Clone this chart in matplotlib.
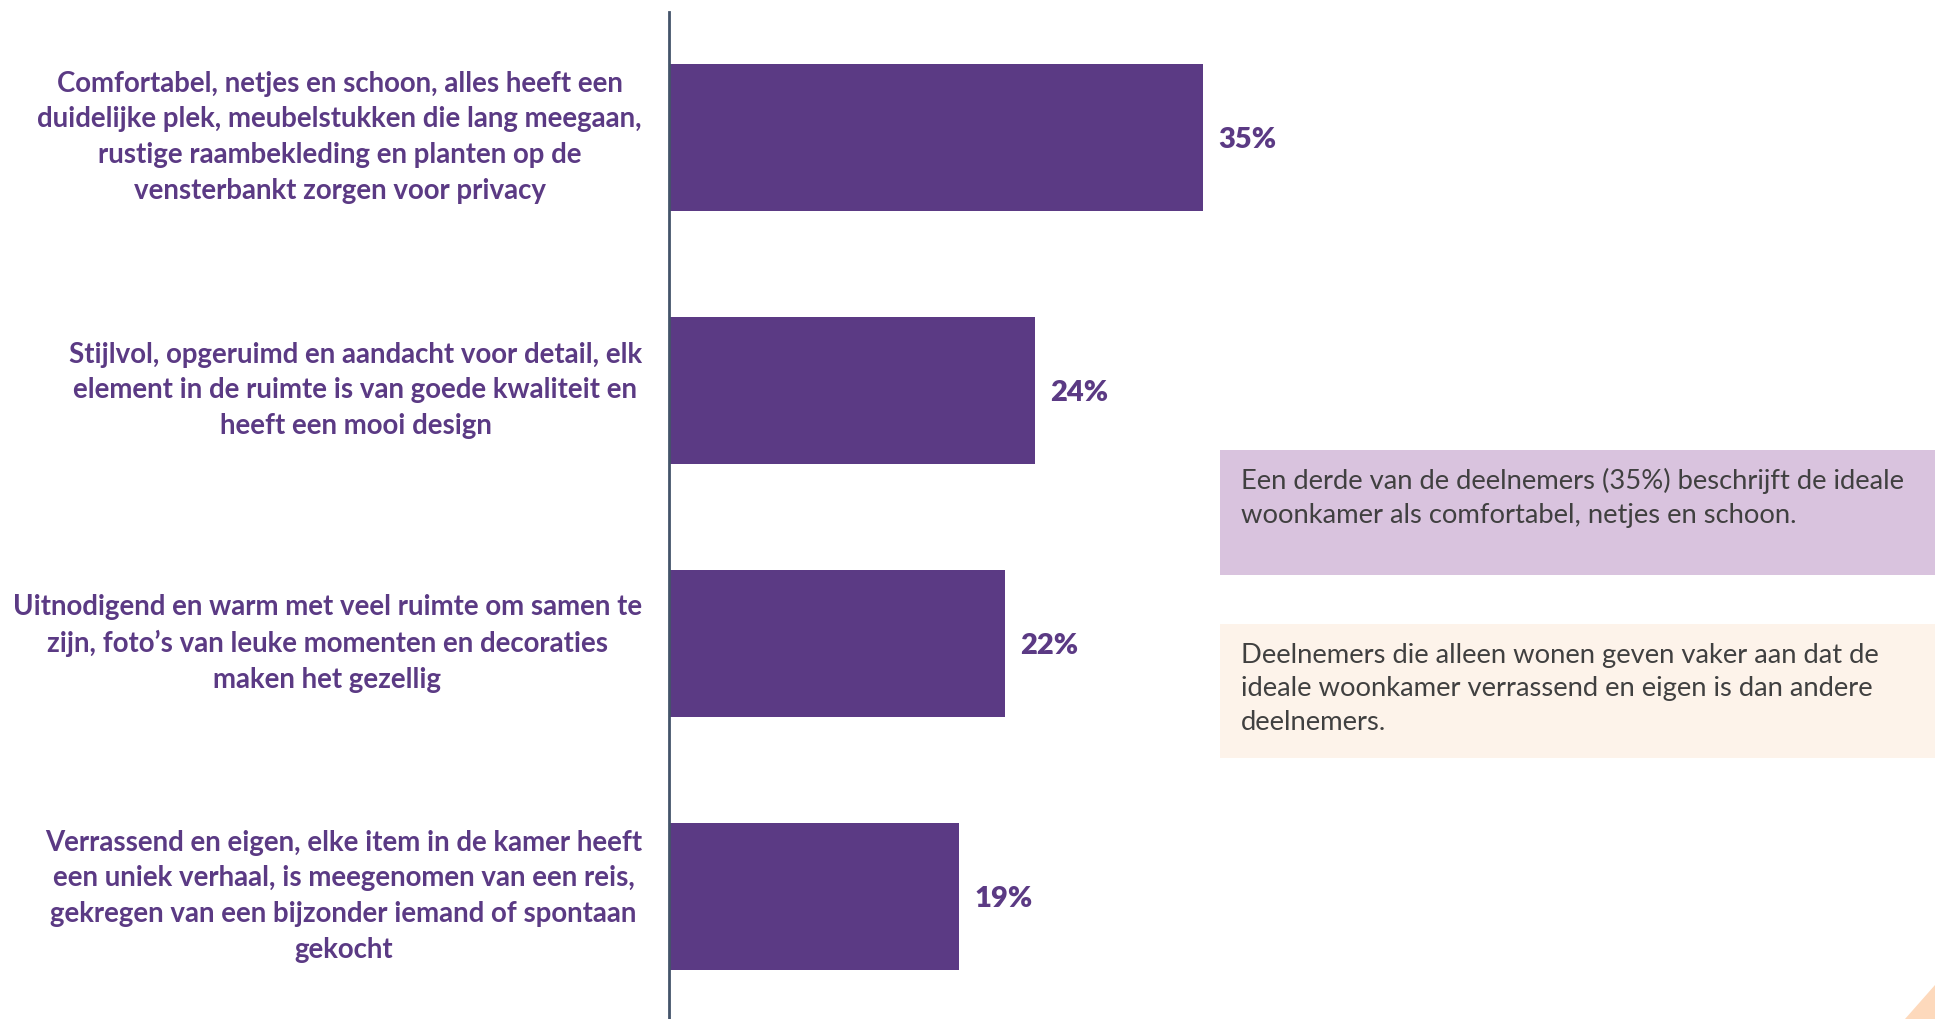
import matplotlib
matplotlib.use("Agg")
import matplotlib.pyplot as plt
from matplotlib.patches import Rectangle, Polygon
import matplotlib.transforms as mtransforms

plt.rcParams['font.family'] = ['Lato', 'DejaVu Sans']

categories = [
    "Comfortabel, netjes en schoon, alles heeft een\nduidelijke plek, meubelstukken die lang meegaan,\nrustige raambekleding en planten op de\nvensterbankt zorgen voor privacy",
    "Stijlvol, opgeruimd en aandacht voor detail, elk\nelement in de ruimte is van goede kwaliteit en\nheeft een mooi design",
    "Uitnodigend en warm met veel ruimte om samen te\nzijn, foto\u2019s van leuke momenten en decoraties\nmaken het gezellig",
    "Verrassend en eigen, elke item in de kamer heeft\neen uniek verhaal, is meegenomen van een reis,\ngekregen van een bijzonder iemand of spontaan\ngekocht",
]
values = [35, 24, 22, 19]
value_labels = ["35%", "24%", "22%", "19%"]

note_1 = "Een derde van de deelnemers (35%) beschrijft de ideale\nwoonkamer als comfortabel, netjes en schoon."
note_2 = "Deelnemers die alleen wonen geven vaker aan dat de\nideale woonkamer verrassend en eigen is dan andere\ndeelnemers."

W, H = 1935, 1019
BAR = "#5B3A84"
TEXT_GREY = "#404040"

fig = plt.figure(figsize=(W / 100, H / 100), dpi=100)
fig.patch.set_facecolor("white")

# axes: left spine is the only visible axis line
ax_left = 669 / W
ax_top = 1 - 12 / H
ax = fig.add_axes([ax_left, 0, 1 - ax_left, ax_top])
ax.set_facecolor("none")

y = list(range(len(values)))
ax.barh(y, values, height=0.58, color=BAR, edgecolor="none", zorder=2)
ax.set_xlim(0, (W - 669) / 15.25)
ax.set_ylim(3.485, -0.495)

for s in ["top", "right", "bottom"]:
    ax.spines[s].set_visible(False)
ax.spines["left"].set_color("#44546A")
ax.spines["left"].set_linewidth(2)
ax.set_xticks([])
ax.set_yticks([])

# value labels right of each bar
for yi, v, lab in zip(y, values, value_labels):
    ax.text(v + 1.0, yi, lab, ha="left", va="center_baseline", color=BAR,
            fontsize=21, fontweight="heavy", zorder=3)

# category labels, right-aligned block with centered lines
trans = mtransforms.blended_transform_factory(fig.transFigure, ax.transData)
for yi, cat in zip(y, categories):
    fig.text(642 / W, yi, cat, transform=trans, ha="right", va="center",
             multialignment="center", color=BAR, fontsize=19.9,
             fontweight="bold", linespacing=1.46)

# note boxes
def note_box(x0, y0, x1, y1, color, text, ty):
    fig.patches.append(Rectangle((x0 / W, 1 - y1 / H), (x1 - x0) / W, (y1 - y0) / H,
                                 transform=fig.transFigure, facecolor=color,
                                 edgecolor="none", zorder=1))
    fig.text(1241 / W, 1 - ty / H, text, ha="left", va="top", color=TEXT_GREY,
             fontsize=19.7, linespacing=1.42, zorder=2)

note_box(1220, 450, W, 575, "#D9C3DE", note_1, 468)
note_box(1220, 624, W, 758, "#FDF3EA", note_2, 643)

# decorative corner
fig.patches.append(Polygon([(1905 / W, 0), (1, 0), (1, 34 / H)], closed=True,
                           transform=fig.transFigure, facecolor="#FDD9BC",
                           edgecolor="none"))

fig.savefig("out.png", dpi=100, facecolor="white")
